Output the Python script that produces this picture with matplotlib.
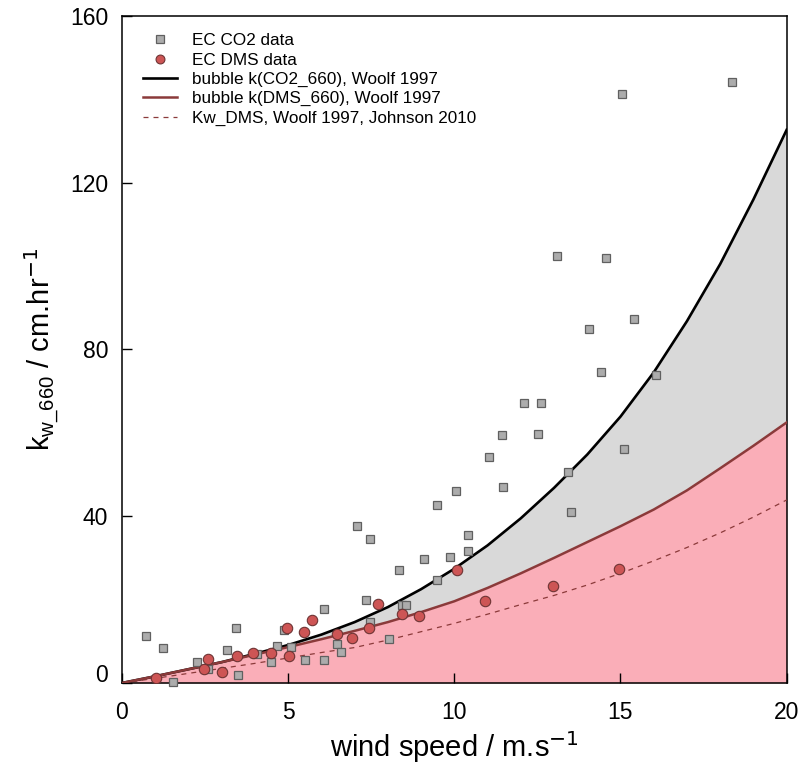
import matplotlib
matplotlib.use("Agg")
import matplotlib.pyplot as plt
import matplotlib.transforms as mtransforms
import numpy as np

plt.rcParams['font.family'] = ['Liberation Sans', 'DejaVu Sans']

# wind speed grid for the curves (m/s)
u_curve = [0, 1, 2, 3, 4, 5, 6, 7, 8, 9, 10, 11, 12, 13, 14, 15, 16, 17, 18, 19, 20]
# bubble k(CO2_660), Woolf 1997
k_co2 = [0, 1.6, 3.3, 5.0, 7.0, 9.1, 11.6, 14.6, 18.2, 22.5, 27.4, 33.0, 39.5, 46.8,
         54.8, 63.9, 74.5, 86.8, 100.5, 116.0, 132.7]
# bubble k(DMS_660), Woolf 1997
k_dms = [0, 1.6, 3.3, 5.0, 6.8, 8.6, 10.5, 12.5, 14.6, 17.0, 19.6, 22.8, 26.3, 30.0,
         33.8, 37.6, 41.6, 46.2, 51.5, 56.9, 62.5]
# Kw_DMS, Woolf 1997, Johnson 2010
kw_dms = [0, 1.1, 2.3, 3.5, 4.7, 6.0, 7.3, 8.5, 10.3, 12.3, 14.3, 16.5, 18.8, 21.0,
          23.5, 26.3, 29.3, 32.5, 36.0, 39.8, 43.9]

# EC CO2 data
co2_u = [0.72, 1.23, 1.53, 2.25, 2.60, 3.15, 3.43, 3.50, 4.05, 4.47, 4.65, 4.86, 5.10,
         5.51, 6.08, 6.09, 6.46, 6.58, 7.06, 7.34, 7.46, 7.46, 8.03, 8.35, 8.42, 8.55,
         9.08, 9.47, 9.47, 9.87, 10.05, 10.42, 10.42, 11.04, 11.44, 11.47, 12.10, 12.52,
         12.60, 13.08, 13.43, 13.50, 14.04, 14.41, 14.57, 15.05, 15.11, 15.41, 16.07, 18.35]
co2_k = [11.3, 8.4, 0.3, 5.1, 3.4, 7.8, 13.3, 1.9, 7.0, 5.0, 8.8, 12.7, 8.6,
         5.4, 5.5, 17.7, 9.4, 7.5, 37.7, 19.9, 34.5, 14.6, 10.5, 27.0, 18.7, 18.6,
         29.8, 42.6, 24.7, 30.3, 46.0, 35.5, 31.7, 54.2, 59.4, 47.1, 67.1, 59.7,
         67.2, 102.5, 50.6, 41.1, 85.0, 74.6, 101.9, 141.3, 56.2, 87.2, 73.8, 144.1]

# EC DMS data
dms_u = [1.02, 2.47, 2.58, 3.02, 3.47, 3.93, 4.47, 4.98, 5.04, 5.47, 5.73, 6.48, 6.93,
         7.44, 7.71, 8.43, 8.95, 10.07, 10.93, 12.96, 14.95]
dms_k = [1.1, 3.3, 5.8, 2.7, 6.5, 7.3, 7.1, 13.3, 6.5, 12.2, 15.0, 11.7, 10.7,
         13.1, 19.0, 16.5, 16.0, 27.0, 19.7, 23.2, 27.3]

fig = plt.figure(figsize=(8.01, 7.66), dpi=100)
ax = fig.add_axes([0.1523, 0.1084, 0.8298, 0.8707])

# filled areas under the bubble curves
ax.fill_between(u_curve, k_dms, k_co2, color='#d9d9d9', lw=0, zorder=1)
ax.fill_between(u_curve, 0, k_dms, color='#faaeb8', lw=0, zorder=1)

# data points
ax.plot(co2_u, co2_k, 's', ms=6, mfc='#acacac', mec='#606060', mew=0.9,
        label='EC CO2 data', zorder=4, clip_on=False)
ax.plot(dms_u, dms_k, 'o', ms=7.5, mfc='#cd5555', mec='#6e3434', mew=0.8,
        label='EC DMS data', zorder=5)

# curves
ax.plot(u_curve, k_co2, color='black', lw=1.9, label='bubble k(CO2_660), Woolf 1997', zorder=3)
ax.plot(u_curve, k_dms, color='#8b3a3a', lw=1.8, label='bubble k(DMS_660), Woolf 1997', zorder=3)
ax.plot(u_curve, kw_dms, color='#8b3a3a', lw=0.9, ls=(0, (4, 4)),
        label='Kw_DMS, Woolf 1997, Johnson 2010', zorder=3)

ax.set_xlim(0, 20)
ax.set_ylim(0, 160)
ax.set_xticks([0, 5, 10, 15, 20])
ax.set_yticks([0, 40, 80, 120, 160])
ax.tick_params(direction='in', length=7, width=1, labelsize=16.5,
               top=False, right=False)
ax.tick_params(axis='x', pad=13)
ax.tick_params(axis='y', pad=10)
for sp in ax.spines.values():
    sp.set_linewidth(1.1)

# nudge the y "0" label up so it does not clash with the x "0"
lbl0 = ax.get_yticklabels()[0]
lbl0.set_transform(lbl0.get_transform() + mtransforms.ScaledTranslation(0, 10 / 100, fig.dpi_scale_trans))

ax.set_xlabel(r'wind speed / m.s$^{-1}$', fontsize=21, labelpad=4)
ax.set_ylabel(r'k$_{\mathregular{w\_660}}$ / cm.hr$^{-1}$', fontsize=21, labelpad=6)

leg = ax.legend(loc='upper left', frameon=False, fontsize=12.3, handlelength=2.0,
                borderaxespad=0.5, labelspacing=0.25, handletextpad=0.9,
                markerscale=0.85, bbox_to_anchor=(0.008, 0.997))

fig.savefig('out.png', dpi=100)
